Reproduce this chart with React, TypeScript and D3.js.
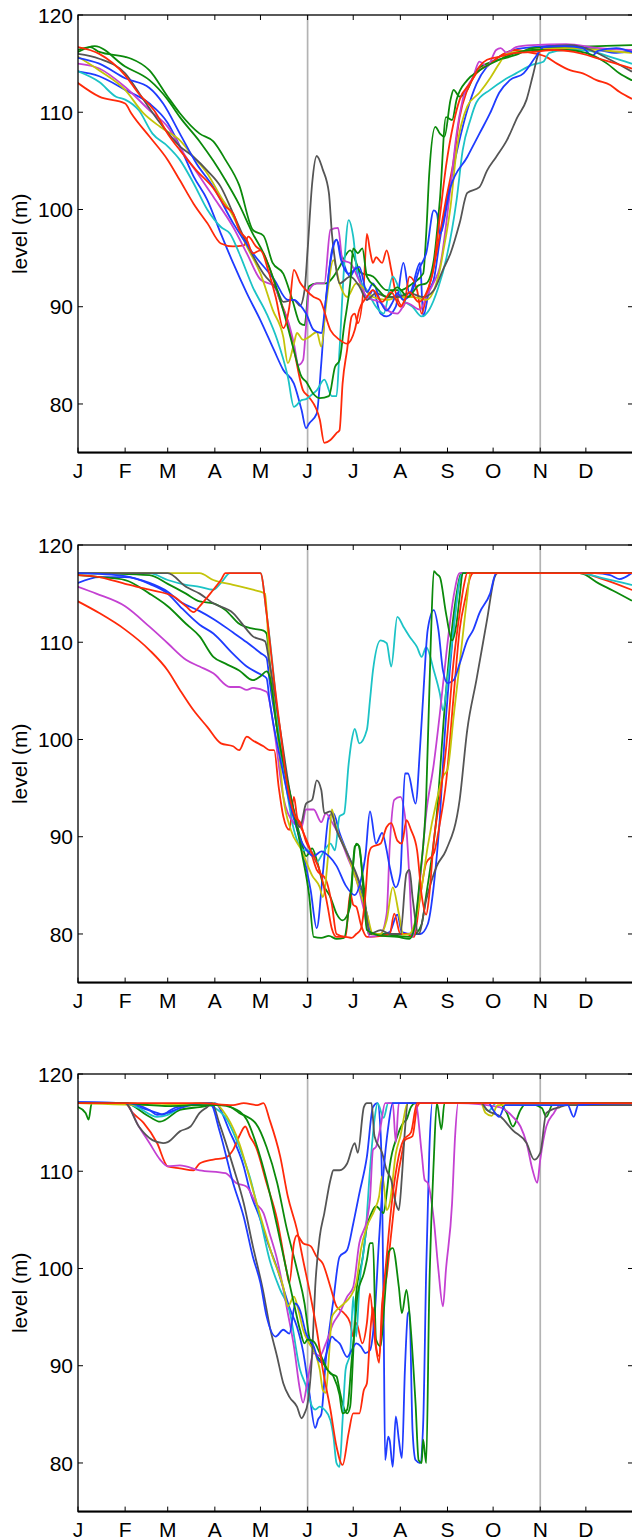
import React from "react";
import * as d3 from "d3";

type Pt = [number, number];

const monthDays = [0, 31, 59, 90, 120, 151, 181, 212, 243, 273, 304, 334];
const monthLabels = ["J", "F", "M", "A", "M", "J", "J", "A", "S", "O", "N", "D"];
const levelTicks = [80, 90, 100, 110, 120];
const markerDays = [151, 304];
const yLabel = "level (m)";

const COLORS = {
  blue: "#1f3cff",
  green: "#0b8a0b",
  red: "#ff2a0a",
  cyan: "#1cc3c6",
  magenta: "#c441d2",
  yellow: "#c4c40a",
  gray: "#555555",
};

// ---------------- Panel 1 ----------------
const p1Blue1: Pt[] = [[0,114.2],[14,113.7],[31,112.3],[47,110.9],[59,108.9],[67,106.5],[76,103.4],[85,101],[94,97.5],[102,94.5],[111,91.4],[120,88.6],[129,85.5],[135,83.5],[142,82.1],[147,79.4],[150,77.5],[152,78],[157,79],[160,84.2],[163,90.7],[167,95.5],[170,96.9],[174,94.8],[179,93.1],[183,94.1],[190,90.7],[194,91.7],[199,89.3],[203,89],[209,90],[214,94.5],[218,91.4],[225,94.5],[227,89],[231,91.7],[234,92.8],[238,96.9],[247,104.4],[256,110.2],[262,112.9],[269,114.7],[277,115.7],[286,116.4],[299,116.7],[321,116.9],[334,116.7],[343,116.4],[354,116.1],[364,116.3]];
const p1Green1: Pt[] = [[0,116.4],[8,116.7],[14,116.2],[31,115.7],[35,115.5],[47,114.3],[59,111.6],[67,109.9],[80,107.8],[89,107],[97,105.1],[106,102.5],[115,97.9],[122,97.3],[128,94.5],[135,93.4],[141,90.7],[146,88.3],[149,88.1],[152,92.1],[157,92.4],[163,92.4],[168,93.1],[172,94.1],[179,95.8],[186,93.5],[194,93.1],[203,91.7],[212,91.7],[220,92.4],[227,93.4],[229,97.5],[231,103.7],[235,108.5],[238,107.8],[241,107.5],[245,111.3],[247,112.3],[251,111.6],[256,112.3],[262,114.3],[269,115],[277,115.4],[288,115.9],[299,116.6],[321,116.7],[343,116.8],[364,116.9]];
const p1Red1: Pt[] = [[0,113],[14,111.6],[31,110.9],[35,109.9],[47,107.5],[59,105.1],[67,103],[76,100.6],[85,98.6],[94,96.5],[102,96.2],[109,96.3],[112,97.2],[117,96.2],[122,95.5],[127,93.5],[132,91],[137,89],[142,85.6],[148,81.4],[152,80.7],[159,78.4],[162,76],[166,76.3],[170,77],[172,77.3],[174,82.1],[177,85.6],[180,89],[182,89.3],[184,88.3],[188,92.4],[190,97.5],[192,95.8],[194,94.5],[196,95.1],[200,94.5],[203,95.8],[206,93.8],[209,91.4],[214,90],[218,93.1],[223,91.7],[226,89.3],[229,91],[234,94.1],[238,97.5],[242,101],[247,105],[251,109.5],[256,112.3],[262,114],[271,115],[280,116],[288,116.4],[295,116.2],[302,116],[308,115.7],[315,115],[324,114.3],[332,114],[341,113.3],[350,112.8],[356,112.1],[364,111.4]];
const p1Cyan: Pt[] = [[0,114.2],[14,113.1],[25,111.6],[31,111.3],[40,110.2],[49,107.8],[59,106.5],[67,105.1],[76,102.7],[85,100],[94,98.2],[100,97.5],[106,95.5],[115,92],[124,89.3],[131,86.6],[138,82.8],[142,79.7],[147,80.4],[150,80.5],[154,81],[157,81.4],[162,82.5],[167,80.8],[170,80.8],[172,85.6],[175,94.1],[178,98.9],[181,97.2],[184,93.1],[190,91.7],[196,90],[201,89.3],[207,93.1],[214,90.7],[220,90],[226,89],[231,89.7],[237,92],[242,94.8],[249,101],[253,106.1],[258,109.2],[262,111],[271,112.3],[280,113.3],[288,114],[299,114.9],[306,115.2],[310,116.1],[320,116.4],[332,116.4],[350,115.7],[364,115]];
const p1Magenta: Pt[] = [[0,115],[14,114.5],[31,112.6],[47,110.2],[59,108.5],[71,105.4],[80,103.4],[89,101.3],[102,98.2],[111,95.5],[120,92.8],[129,92.1],[135,89.7],[138,88.6],[142,86.2],[145,84],[148,84.5],[150,88],[152,91.7],[157,92.4],[162,92.4],[166,97.9],[171,98.1],[174,94.8],[179,94.5],[184,93],[190,91],[199,90.4],[205,89.5],[210,89.3],[216,90.4],[225,89.7],[229,91],[234,92.5],[238,94.1],[245,102.3],[249,107.8],[253,111.3],[260,113.7],[264,115.2],[269,114.7],[275,116.4],[278,116.6],[282,116.1],[288,116.7],[299,116.9],[321,117],[343,116.6],[364,116.4]];
const p1Yellow: Pt[] = [[0,115.7],[14,114.3],[31,112.3],[43,109.9],[54,108.5],[67,107.1],[76,105.4],[85,103.7],[94,101.3],[102,99.3],[111,96.2],[120,93.4],[128,89.7],[135,86.9],[138,84.2],[142,86.2],[144,87.3],[148,86.6],[152,86.9],[157,87.4],[160,85.9],[163,90],[168,94.8],[172,92.4],[177,91],[183,92.4],[194,91],[203,90.7],[212,91],[220,91],[229,90.7],[238,93.8],[240,95.5],[245,100.3],[249,106.1],[256,110.6],[264,112],[271,113.5],[277,115],[282,116],[299,116.4],[321,116.6],[343,116.4],[364,116.1]];
const p1Gray: Pt[] = [[0,116],[14,115.5],[31,114],[43,111.3],[54,108.9],[67,106.5],[76,105.4],[85,104],[94,102.3],[102,99.6],[111,96.5],[122,93.4],[131,91.7],[135,90.5],[142,90.7],[146,90.1],[149,91.7],[151,95.8],[154,102.7],[157,105.5],[161,104.1],[165,101.7],[167,97.5],[169,94.8],[172,92.4],[179,93.1],[185,92.1],[190,90.7],[196,91.4],[203,91],[210,91],[218,91.4],[227,91],[234,91.7],[240,93.8],[245,95.5],[251,98.6],[256,101.7],[264,102.3],[269,104],[275,105.4],[282,107.1],[289,109.5],[295,111.3],[299,113.7],[303,116.1],[306,116.7],[324,116.9],[337,116.4],[350,115.4],[364,114.2]];
const p1Blue2: Pt[] = [[0,115.6],[14,115],[31,113.5],[47,112.5],[56,110.9],[67,107.8],[78,104.7],[89,102.3],[102,98.6],[115,95.5],[129,92.8],[138,90.7],[142,90.7],[146,90.2],[150,89.3],[155,87.6],[160,87.3],[163,90.7],[167,95.8],[170,96.9],[173,94.8],[178,93.4],[185,94.1],[190,91.5],[194,92.4],[199,90.5],[203,89.6],[207,90.5],[210,91.4],[214,90.7],[220,91.7],[225,94.1],[229,95.5],[234,99.9],[236,99.6],[238,97.5],[245,102.3],[256,105.4],[264,107.8],[271,109.9],[277,112],[284,113.3],[293,114],[301,115.7],[306,116.7],[320,116.8],[332,116.6],[338,115.8],[342,116.3],[354,116.6],[364,116.2]];
const p1Green2: Pt[] = [[0,116.2],[11,116.8],[31,114.7],[47,113.3],[59,111.3],[67,109.5],[80,107],[89,105],[97,103],[106,100.5],[115,97.5],[122,95.5],[129,92.7],[138,87.9],[142,85.5],[147,82.8],[150,82.3],[155,81],[159,80.6],[165,80.8],[169,83.8],[172,84.5],[175,88],[179,92.4],[181,96],[184,95.5],[187,96],[190,93.1],[196,92],[203,91],[210,92],[217,91],[224,92.2],[229,92.4],[234,94.8],[238,101],[242,109.5],[246,109.2],[249,111.3],[256,113.3],[264,114.3],[277,115.4],[288,116.1],[299,116.4],[321,116.4],[334,116.1],[348,115],[356,114],[364,113.3]];
const p1Red2: Pt[] = [[0,116.7],[14,116],[31,113.8],[40,111.9],[50,110.2],[59,107.8],[67,106.1],[78,104],[89,102.2],[97,100.3],[102,99.6],[106,97.9],[111,96.9],[115,95.5],[120,95.8],[125,93.8],[130,91],[135,87.8],[139,90],[142,93.8],[146,92.5],[150,91.7],[155,91],[159,90.7],[166,87.6],[172,86.6],[177,86.2],[182,87.6],[185,89.7],[190,91],[194,91.7],[200,90.5],[206,91.5],[212,90],[218,91.5],[224,90.5],[229,91.4],[234,94.1],[238,99.3],[242,104.4],[247,108.9],[251,111.3],[258,113],[264,114.7],[269,115.4],[277,115.7],[288,116.1],[299,116.2],[313,116.4],[326,116.2],[343,115.5],[354,115],[364,114.5]];

// ---------------- Panel 2 ----------------
const p2Blue1: Pt[] = [[0,116.1],[14,116.7],[31,116.7],[47,116.1],[59,115.2],[67,114.2],[80,113.2],[89,112.4],[102,111],[111,110],[120,108.9],[124,108.4],[126,106],[133,99.3],[140,93.4],[147,89],[153,84.5],[157,80.6],[161,86.2],[165,92.1],[168,92.4],[172,90.4],[179,87.6],[185,84.9],[190,82.1],[193,80],[200,80],[205,80.2],[210,82],[213,80.2],[220,80],[225,80],[230,81],[234,85],[238,92],[241,100],[245,108],[248,113],[251,116.4],[253,117.1],[300,117.1],[340,117.1],[350,116.9],[356,116.5],[364,117.1]];
const p2Green1: Pt[] = [[0,117.1],[47,116.9],[59,116],[71,115],[80,114.2],[89,114],[97,113.3],[106,111.9],[115,111.4],[122,111.2],[124,110.9],[126,108],[131,101],[140,94],[147,89.5],[150,88],[154,88.8],[157,87.6],[161,85.2],[166,83.8],[170,82.1],[174,81.4],[179,82.8],[182,89],[184,89.2],[188,84.9],[191,80],[200,80],[210,79.8],[218,79.7],[222,80],[226,81],[229,84],[236,92.4],[241,103],[245,110],[249,115],[252,117.1],[330,117.1],[343,116],[352,115.3],[364,114.3]];
const p2Red1: Pt[] = [[0,114.2],[14,113],[31,111.3],[47,109.2],[59,107.1],[67,105.1],[76,103],[85,101.3],[94,99.6],[102,99.3],[106,98.9],[111,100.3],[115,99.9],[122,99.3],[126,98.9],[129,98.9],[132,95.1],[135,92.1],[139,90.7],[142,94.1],[144,92.1],[148,90.5],[152,89],[157,86.6],[163,85.6],[167,83],[170,80],[176,79.7],[179,84.2],[181,83],[183,82.8],[186,81],[190,79.7],[200,79.8],[205,80],[208,82.1],[212,80],[216,80],[221,79.7],[225,83.8],[229,87.3],[234,88.3],[238,91.4],[242,95.5],[247,104.4],[251,111.3],[255,114.7],[258,116.7],[260,117.1],[330,117.1],[345,116.5],[364,115.4]];
const p2Cyan: Pt[] = [[0,117.1],[47,117.1],[59,116.4],[71,115.9],[80,115.7],[89,115.4],[94,116.1],[100,117.1],[120,117.1],[124,113],[129,106.1],[133,99.3],[138,94.1],[142,90.7],[149,88.6],[153,88.6],[157,87.4],[161,88.3],[166,89.3],[169,88.6],[172,92.1],[175,92.4],[178,97.5],[180,99.9],[182,101.1],[185,99.6],[190,101],[192,104],[194,107.1],[199,110.2],[203,109.9],[206,107.5],[210,112.6],[214,111.6],[218,110.6],[223,109.5],[226,108.5],[229,109.5],[234,107.1],[238,104.7],[240,103],[243,106.1],[247,111.3],[251,116.4],[253,117.1],[330,117.1],[345,116.6],[364,115.9]];
const p2Magenta: Pt[] = [[0,115.7],[12,115],[31,113.7],[47,111.6],[59,109.9],[71,108.2],[80,107.5],[89,106.8],[100,105.4],[106,105.4],[111,105.1],[115,105.3],[124,104.9],[129,101],[135,94.1],[142,91.4],[147,91],[150,92.8],[155,92.8],[160,91.5],[163,92.4],[167,91.5],[172,90],[177,88],[183,85.6],[188,82.5],[192,79.7],[199,80],[203,82.1],[205,89],[208,93.8],[212,94.1],[216,90.7],[218,85.6],[220,79.7],[225,85.6],[229,92.4],[234,97.5],[238,102.7],[242,108.5],[247,114.7],[251,117.1],[364,117.1]];
const p2Yellow: Pt[] = [[0,117.1],[80,117.1],[89,116.4],[102,115.9],[115,115.4],[120,115.2],[123,115],[126,107.8],[131,101],[135,94.1],[140,90.7],[147,88.6],[154,86],[159,84.8],[161,83.8],[165,89],[167,92.8],[169,91.4],[177,88.3],[183,85.6],[190,82.1],[194,80],[199,80],[203,81.4],[207,84.8],[211,82.1],[214,79.9],[218,80],[223,82.1],[226,84.8],[230,89],[236,93.8],[240,96.2],[243,96.9],[247,102.3],[251,107.8],[256,114.7],[258,117.1],[364,117.1]];
const p2Gray: Pt[] = [[0,117.1],[59,117.1],[71,115.7],[80,115],[89,114],[102,113],[111,111.3],[115,110.6],[123,110.1],[126,107.8],[133,101],[140,94.1],[146,91],[150,93.4],[154,93.8],[157,95.8],[160,94.8],[162,92.4],[166,92.6],[170,90.7],[177,88.3],[183,86.2],[188,83.8],[192,80],[199,80.4],[205,80],[212,80],[216,86.2],[218,86.6],[220,83.8],[224,80],[229,83.5],[236,87],[242,88.6],[251,93.8],[256,101],[262,106.1],[269,112.3],[274,116.7],[276,117.1],[364,117.1]];
const p2Blue2: Pt[] = [[0,117.1],[31,116.8],[47,116],[59,115],[67,113.7],[80,111.8],[89,110.9],[102,108.8],[111,107.5],[120,106.7],[124,106.3],[126,104],[133,98],[140,93],[147,89.5],[151,88.5],[155,88],[160,88.5],[165,88],[170,87],[176,85],[182,84],[186,85.5],[189,88],[192,92.6],[196,89.3],[200,90.4],[203,88.6],[205,86.9],[209,84.8],[212,86.2],[215,96.5],[217,96.5],[222,93.4],[225,99.3],[227,104.4],[230,111.3],[234,113.3],[237,111.3],[240,107.1],[243,105.8],[247,106.1],[251,107.8],[256,110.2],[260,111.3],[264,113],[271,115],[275,117.1],[364,117.1]];
const p2Green2: Pt[] = [[0,116.9],[14,116.7],[31,116.4],[47,115],[59,113.7],[71,111.9],[80,110.6],[89,108.5],[97,107.8],[106,107.1],[115,106.1],[120,106.5],[124,107],[126,106.5],[131,101],[140,94],[147,88.5],[152,84],[155,79.7],[160,79.6],[165,79.8],[170,79.5],[175,79.6],[179,83.8],[183,89.3],[185,89],[188,83.8],[190,80.4],[200,79.8],[210,79.7],[218,79.5],[221,80.5],[225,86],[229,94.1],[232,110],[234,117.3],[236,117],[238,116.7],[242,113],[246,110.2],[249,112],[251,114.7],[253,117.1],[364,117.1]];
const p2Red2: Pt[] = [[0,116.9],[14,116.7],[31,116],[47,115.4],[63,114.7],[71,113.7],[76,113.1],[80,113.7],[89,115.4],[94,116.4],[97,117.1],[120,117.1],[124,113],[129,106],[133,101],[137,96],[140,93.5],[143,92],[146,91.5],[150,89.5],[155,88],[160,86],[164,83],[167,80.5],[170,79.7],[176,79.7],[180,79.6],[183,80],[186,80.5],[189,84],[191,88],[193,88.9],[199,89.3],[203,91],[206,91.4],[210,89.6],[213,89.3],[216,91.7],[219,90.7],[223,88.6],[226,84],[229,82],[231,84],[234,89.6],[238,94],[242,99],[247,108],[251,113],[254,116],[256,117.1],[364,117.1]];

// ---------------- Panel 3 ----------------
const p3Blue1: Pt[] = [[0,117.1],[31,117],[40,116.6],[52,116],[56,115.8],[59,116.1],[65,116.6],[90,117],[100,114],[109,110.5],[113,108],[120,105],[124,103],[131,100],[135,98],[139,96],[144,94],[148,91.5],[152,87.4],[156,83.6],[158,84.5],[160,85],[163,90.6],[168,96.8],[172,101.2],[177,101.9],[181,104.6],[185,107.7],[190,111.5],[194,116.6],[197,117],[199,114],[200,108],[201,95],[202,80.3],[204,82.7],[205,82.3],[207,79.6],[209,84.8],[211,82.4],[213,80.5],[215,89.6],[217,95.4],[218,95.6],[220,83.4],[222,80.3],[225,80],[227,84],[229,99.9],[231,111.9],[233,117],[364,117]];
const p3Green1: Pt[] = [[0,116.6],[5,116],[7,115.3],[9,117],[31,117],[47,115.6],[54,115.1],[67,116.3],[80,116.6],[90,116.8],[97,116.8],[106,116],[117,114.9],[124,112.5],[131,108.8],[137,104.3],[144,99.9],[149,96.4],[152,93],[156,91.3],[161,90.3],[166,89.2],[170,88.9],[172,87.5],[174,86.1],[177,85.1],[179,85.8],[181,91.3],[183,97.5],[187,100.9],[190,104.3],[193,105.7],[196,106.4],[201,105.7],[203,107.7],[205,110.5],[210,113.6],[214,115],[216,115.3],[219,116.6],[222,117],[277,117],[282,116],[286,114.6],[291,116.3],[295,117],[305,116.5],[308,115.6],[312,116.8],[364,116.8]];
const p3Red1: Pt[] = [[0,117],[31,117],[36,116],[43,115],[52,112.9],[59,110.5],[67,110.3],[76,110.1],[80,110.8],[89,111.2],[97,111.4],[102,112.2],[106,113.6],[110,114.6],[113,113.6],[117,112.5],[124,108.8],[131,105],[137,99.9],[139,98.5],[142,102.6],[144,103.4],[148,102.6],[153,102.3],[157,101.2],[161,100.5],[166,98.1],[170,96.1],[175,95.4],[179,94.4],[181,93],[183,94.4],[187,92.3],[190,94.4],[192,97.4],[195,93],[198,90.3],[200,96.4],[203,99.2],[206,103.6],[210,109.1],[213,111.8],[215,113.2],[220,113.6],[223,116.6],[225,117],[364,117]];
const p3Cyan: Pt[] = [[0,117],[31,117],[40,116.5],[52,115.6],[59,115.8],[67,116.5],[80,117],[89,116.6],[98,115.3],[106,112.5],[113,109.4],[120,105],[126,100.9],[133,97.8],[139,95.7],[146,89.6],[150,87.9],[154,85.8],[156,85.5],[159,85.8],[162,85.5],[166,84.4],[168,82.7],[170,80],[172,79.6],[174,84.4],[176,89.6],[179,91.3],[181,97.1],[183,93],[185,98.1],[189,103.3],[192,110.1],[195,115.3],[197,117],[201,115.5],[204,117],[265,117],[270,116.2],[275,117],[364,117]];
const p3Magenta: Pt[] = [[0,117],[31,117],[40,114.6],[47,112.9],[54,111.2],[59,110.5],[67,110.6],[80,110.1],[97,109.8],[104,108.8],[111,108.4],[117,106.7],[122,105.7],[126,103.6],[131,100.9],[138,95.4],[142,92],[146,87.5],[148,86.2],[151,88.5],[155,91.3],[159,91],[163,92.3],[168,94.4],[172,95.4],[177,97.1],[181,98.1],[185,102.6],[190,105],[192,107.1],[194,112.2],[196,112.5],[199,114.6],[202,117],[207,117],[209,113],[211,117],[222,117],[226,111.9],[228,109.1],[230,108.8],[234,105],[237,99.9],[240,96.1],[242,99.9],[246,106.7],[248,113.6],[250,117],[277,116.6],[286,115.6],[291,114.6],[295,112.9],[299,110.1],[302,108.8],[304,111.2],[308,114.6],[313,116],[317,116.8],[364,116.8]];
const p3Yellow: Pt[] = [[0,117],[52,116.8],[89,117],[98,115.6],[106,112.9],[115,108.1],[122,104.3],[128,101.2],[135,98.1],[138,96.1],[142,97.1],[145,95.7],[148,93.7],[152,92.3],[156,91.3],[159,89.6],[161,87.5],[163,87.2],[165,90.9],[167,95],[170,95.7],[175,96.4],[179,97.1],[183,98.5],[186,101.9],[190,104.3],[195,106],[198,107.4],[200,109.5],[201,108.8],[203,106],[205,106.7],[209,111.8],[212,113.6],[217,117],[265,117],[268,116],[272,115.7],[276,116.8],[364,117]];
const p3Gray: Pt[] = [[0,117],[31,117],[40,114.6],[49,113.2],[56,112.9],[59,113],[67,114.1],[74,114.6],[80,116],[85,116.6],[88,117],[93,114.9],[102,110.5],[109,106.7],[115,102.3],[122,97.5],[126,94.1],[131,90.9],[135,88.2],[139,86.8],[144,85.8],[147,84.6],[149,85.1],[151,86.1],[154,91.3],[156,98.1],[159,103.3],[162,105.7],[166,109.1],[168,110.1],[172,110.1],[177,110.8],[182,112.9],[184,111.9],[188,116.6],[190,117],[193,117],[195,113.6],[200,111.9],[203,110.1],[206,109.1],[209,106.7],[211,106],[213,109.4],[215,114.2],[217,117],[265,117],[269,116.3],[278,115.6],[286,114.2],[295,112.9],[300,111.2],[304,111.9],[308,116],[317,116.6],[322,116.8],[364,116.8]];
const p3Blue2: Pt[] = [[0,117.1],[31,117],[47,116.3],[52,115.8],[59,116],[67,116.5],[87,117],[93,114.2],[102,108.8],[109,105.3],[115,101.2],[120,98.5],[124,95.1],[130,93],[135,93.7],[139,93.3],[143,96.4],[146,95.7],[150,93.3],[155,92],[158,90.6],[161,90.3],[164,91.6],[167,93],[169,92.7],[172,92.3],[177,90.9],[180,91.6],[183,92.3],[186,92],[189,91.3],[192,91.6],[195,95],[198,103],[201,110],[204,114.5],[207,117],[270,117],[273,116.3],[277,115.6],[281,116.8],[322,116.8],[326,115.6],[329,116.8],[364,117]];
const p3Green2: Pt[] = [[0,117],[31,117],[47,116.8],[59,116.7],[80,116.8],[93,116.8],[102,116.5],[111,115.3],[117,112.9],[124,109.1],[131,104.3],[137,99.9],[142,96.4],[146,93.7],[149,92.3],[151,92.7],[155,92.5],[159,91.3],[164,89.6],[168,88.9],[172,87],[174,85.1],[177,85.5],[180,90.6],[182,94],[184,97.5],[188,99.5],[190,100.9],[192,102.6],[194,102.6],[196,92.7],[199,92],[202,97.5],[204,101.6],[207,102.1],[211,98.1],[213,95.4],[216,97.8],[218,95.4],[222,86.1],[224,80.3],[226,80],[227,82.4],[229,80],[231,97.5],[234,111.2],[236,117],[239,114.3],[241,117],[364,117]];
const p3Red2: Pt[] = [[0,117],[80,117],[102,116.8],[109,117],[118,116.8],[122,117],[126,115.3],[133,111.5],[138,107.4],[144,104],[148,100.9],[153,97.1],[157,93.7],[161,89.6],[166,85.5],[170,81.7],[174,79.8],[178,83.1],[181,85.1],[185,85.1],[188,87.5],[190,88.2],[192,93],[194,96],[196,92],[198,91],[201,97.8],[203,101.2],[205,104.7],[210,110.8],[214,113.2],[219,114],[223,117],[364,117]];

const panels = [
  { top: 15, series: [
    { data: p1Blue1, color: COLORS.blue }, { data: p1Green1, color: COLORS.green }, { data: p1Red1, color: COLORS.red },
    { data: p1Cyan, color: COLORS.cyan }, { data: p1Magenta, color: COLORS.magenta }, { data: p1Yellow, color: COLORS.yellow },
    { data: p1Gray, color: COLORS.gray }, { data: p1Blue2, color: COLORS.blue }, { data: p1Green2, color: COLORS.green },
    { data: p1Red2, color: COLORS.red },
  ] },
  { top: 545, series: [
    { data: p2Blue1, color: COLORS.blue }, { data: p2Green1, color: COLORS.green }, { data: p2Red1, color: COLORS.red },
    { data: p2Cyan, color: COLORS.cyan }, { data: p2Magenta, color: COLORS.magenta }, { data: p2Yellow, color: COLORS.yellow },
    { data: p2Gray, color: COLORS.gray }, { data: p2Blue2, color: COLORS.blue }, { data: p2Green2, color: COLORS.green },
    { data: p2Red2, color: COLORS.red },
  ] },
  { top: 1074, series: [
    { data: p3Blue1, color: COLORS.blue }, { data: p3Green1, color: COLORS.green }, { data: p3Red1, color: COLORS.red },
    { data: p3Cyan, color: COLORS.cyan }, { data: p3Magenta, color: COLORS.magenta }, { data: p3Yellow, color: COLORS.yellow },
    { data: p3Gray, color: COLORS.gray }, { data: p3Blue2, color: COLORS.blue }, { data: p3Green2, color: COLORS.green },
    { data: p3Red2, color: COLORS.red },
  ] },
];

const W = 632;
const H = 1540;
const LEFT = 78;
const RIGHT = 633;
const PANEL_H = 437.6;
const FONT = "'Liberation Sans', Arial, Helvetica, sans-serif";
const FS = 21;
const TICK = 5;

export default function App() {
  const x = d3.scaleLinear().domain([0, 365]).range([LEFT, RIGHT]);
  return (
    <svg width={W} height={H} style={{ position: "absolute", left: 0, top: 0, background: "#fff" }}
      fontFamily={FONT}>
      <rect x={0} y={0} width={W} height={H} fill="#fff" />
      {panels.map((p, pi) => {
        const bottom = p.top + PANEL_H;
        const y = d3.scaleLinear().domain([75, 120]).range([bottom, p.top]);
        const line = d3.line<Pt>().x((d) => x(d[0])).y((d) => y(d[1])).curve(d3.curveMonotoneX);
        const clipId = `clip${pi}`;
        return (
          <g key={pi}>
            <defs>
              <clipPath id={clipId}>
                <rect x={LEFT} y={p.top} width={RIGHT - LEFT} height={PANEL_H} />
              </clipPath>
            </defs>
            {markerDays.map((d) => (
              <line key={d} x1={x(d)} x2={x(d)} y1={p.top} y2={bottom} stroke="#b3b3b3" strokeWidth={1.7} />
            ))}
            <g clipPath={`url(#${clipId})`}>
              {p.series.map((s, si) => (
                <path key={si} d={line(s.data) || ""} fill="none" stroke={s.color} strokeWidth={1.8}
                  strokeLinejoin="round" strokeLinecap="round" />
              ))}
            </g>
            <rect x={LEFT} y={p.top} width={RIGHT - LEFT} height={PANEL_H} fill="none" stroke="#000" strokeWidth={1.3} />
            <line x1={LEFT} x2={RIGHT} y1={bottom} y2={bottom} stroke="#000" strokeWidth={2} />
            {monthDays.map((d, i) => (
              <g key={i}>
                <line x1={x(d)} x2={x(d)} y1={bottom} y2={bottom - TICK} stroke="#000" strokeWidth={1} />
                <line x1={x(d)} x2={x(d)} y1={p.top} y2={p.top + TICK} stroke="#000" strokeWidth={1} />
                <text x={x(d)} y={bottom + 25} textAnchor="middle" fontSize={FS} fill="#000">{monthLabels[i]}</text>
              </g>
            ))}
            {levelTicks.map((v) => (
              <g key={v}>
                <line x1={LEFT} x2={LEFT + TICK} y1={y(v)} y2={y(v)} stroke="#000" strokeWidth={1} />
                <line x1={RIGHT - TICK} x2={RIGHT} y1={y(v)} y2={y(v)} stroke="#000" strokeWidth={1} />
                <text x={LEFT - 5} y={y(v)} dy="0.36em" textAnchor="end" fontSize={FS} fill="#000">{v}</text>
              </g>
            ))}
            <text transform={`translate(${19},${(p.top + bottom) / 2}) rotate(-90)`} textAnchor="middle"
              dy="0.36em" fontSize={FS} fill="#000">{yLabel}</text>
          </g>
        );
      })}
    </svg>
  );
}
